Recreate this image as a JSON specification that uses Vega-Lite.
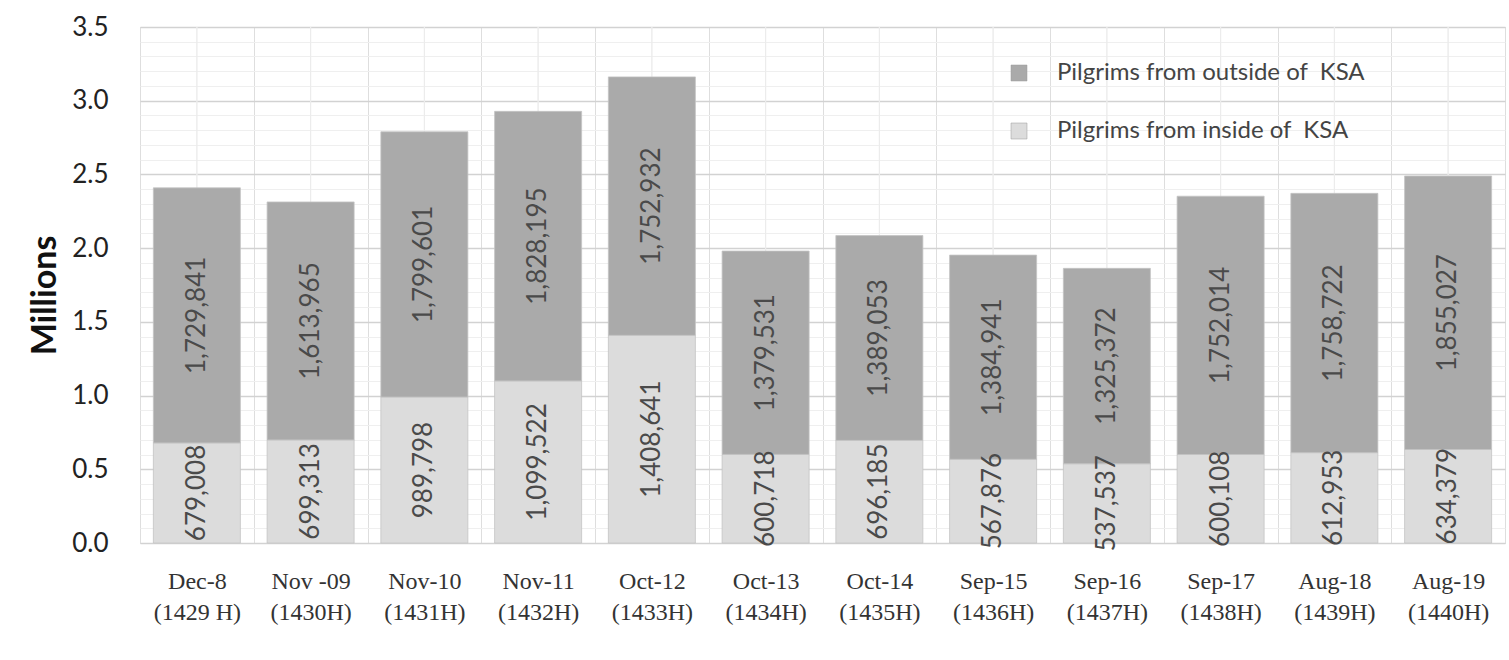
{
  "$schema": "https://vega.github.io/schema/vega-lite/v6.json",
  "width": 1365,
  "height": 516,
  "autosize": {"type": "none"},
  "padding": {"left": 140, "top": 27, "right": 4, "bottom": 117},
  "background": "white",
  "config": {"view": {"stroke": "#d9d9d9"}},
  "data": {"values": [
    {"cat": "Dec-8\n(1429 H)", "series": "Pilgrims from inside of  KSA", "value": 679008},
    {"cat": "Dec-8\n(1429 H)", "series": "Pilgrims from outside of  KSA", "value": 1729841},
    {"cat": "Nov -09\n(1430H)", "series": "Pilgrims from inside of  KSA", "value": 699313},
    {"cat": "Nov -09\n(1430H)", "series": "Pilgrims from outside of  KSA", "value": 1613965},
    {"cat": "Nov-10\n(1431H)", "series": "Pilgrims from inside of  KSA", "value": 989798},
    {"cat": "Nov-10\n(1431H)", "series": "Pilgrims from outside of  KSA", "value": 1799601},
    {"cat": "Nov-11\n(1432H)", "series": "Pilgrims from inside of  KSA", "value": 1099522},
    {"cat": "Nov-11\n(1432H)", "series": "Pilgrims from outside of  KSA", "value": 1828195},
    {"cat": "Oct-12\n(1433H)", "series": "Pilgrims from inside of  KSA", "value": 1408641},
    {"cat": "Oct-12\n(1433H)", "series": "Pilgrims from outside of  KSA", "value": 1752932},
    {"cat": "Oct-13\n(1434H)", "series": "Pilgrims from inside of  KSA", "value": 600718},
    {"cat": "Oct-13\n(1434H)", "series": "Pilgrims from outside of  KSA", "value": 1379531},
    {"cat": "Oct-14\n(1435H)", "series": "Pilgrims from inside of  KSA", "value": 696185},
    {"cat": "Oct-14\n(1435H)", "series": "Pilgrims from outside of  KSA", "value": 1389053},
    {"cat": "Sep-15\n(1436H)", "series": "Pilgrims from inside of  KSA", "value": 567876},
    {"cat": "Sep-15\n(1436H)", "series": "Pilgrims from outside of  KSA", "value": 1384941},
    {"cat": "Sep-16\n(1437H)", "series": "Pilgrims from inside of  KSA", "value": 537537},
    {"cat": "Sep-16\n(1437H)", "series": "Pilgrims from outside of  KSA", "value": 1325372},
    {"cat": "Sep-17\n(1438H)", "series": "Pilgrims from inside of  KSA", "value": 600108},
    {"cat": "Sep-17\n(1438H)", "series": "Pilgrims from outside of  KSA", "value": 1752014},
    {"cat": "Aug-18\n(1439H)", "series": "Pilgrims from inside of  KSA", "value": 612953},
    {"cat": "Aug-18\n(1439H)", "series": "Pilgrims from outside of  KSA", "value": 1758722},
    {"cat": "Aug-19\n(1440H)", "series": "Pilgrims from inside of  KSA", "value": 634379},
    {"cat": "Aug-19\n(1440H)", "series": "Pilgrims from outside of  KSA", "value": 1855027}
  ]},
  "encoding": {
    "x": {
      "field": "cat", "type": "nominal", "sort": null,
      "scale": {"paddingInner": 0, "paddingOuter": 0},
      "axis": {
        "title": null,
        "labelAngle": 0,
        "labelExpr": "datum.value ? split(datum.value, '\\n') : ''",
        "labelFont": "Liberation Serif",
        "labelFontSize": 24,
        "labelLineHeight": 31,
        "labelColor": "#333333",
        "labelBaseline": "top",
        "labelPadding": 26,
        "labelOverlap": false,
        "ticks": false,
        "domain": false,
        "grid": true,
        "tickBand": "extent",
        "gridColor": "#dedede",
        "gridWidth": 1
      }
    }
  },
  "layer": [
    {
      "mark": {"type": "rule", "color": "#ececec", "strokeWidth": 1},
      "encoding": {}
    },
    {
      "mark": {"type": "bar", "width": {"band": 0.765}, "stroke": "#c4c4c4", "strokeWidth": 0.8},
      "encoding": {
        "y": {
          "field": "value", "type": "quantitative", "stack": "zero",
          "scale": {"domain": [0, 3500000], "nice": false},
          "axis": {
            "title": "Millions",
            "titleFont": "Lato",
            "titleFontSize": 34,
            "titleFontWeight": "bold",
            "titleColor": "#111111",
            "titleAngle": -90,
            "titleX": -95,
            "titleY": 268,
            "titleAlign": "center",
            "titleBaseline": "middle",
            "tickCount": 50,
            "values": [0, 100000, 200000, 300000, 400000, 500000, 600000, 700000, 800000, 900000, 1000000, 1100000, 1200000, 1300000, 1400000, 1500000, 1600000, 1700000, 1800000, 1900000, 2000000, 2100000, 2200000, 2300000, 2400000, 2500000, 2600000, 2700000, 2800000, 2900000, 3000000, 3100000, 3200000, 3300000, 3400000, 3500000],
            "labelExpr": "datum.value % 500000 === 0 ? format(datum.value / 1000000, '.1f') : ''",
            "labelOverlap": false,
            "labelFont": "Lato",
            "labelFontSize": 26,
            "labelColor": "#222222",
            "labelPadding": 32,
            "ticks": false,
            "domain": false,
            "grid": true,
            "gridColor": {"condition": {"test": "datum.value % 500000 === 0", "value": "#d2d2d2"}, "value": "#efefef"},
            "gridWidth": {"condition": {"test": "datum.value % 500000 === 0", "value": 1.5}, "value": 1}
          }
        },
        "color": {
          "field": "series", "type": "nominal",
          "scale": {"domain": ["Pilgrims from outside of  KSA", "Pilgrims from inside of  KSA"], "range": ["#aaaaaa", "#dcdcdc"]},
          "legend": {
            "title": null,
            "orient": "none",
            "legendX": 867,
            "legendY": 34,
            "padding": 0,
            "symbolType": "square",
            "symbolSize": 256,
            "symbolStrokeColor": "#9a9a9a",
            "symbolStrokeWidth": 0.5,
            "labelExpr": "replace(datum.label, '  ', ' \u00a0')",
            "labelFont": "Lato",
            "labelFontSize": 24,
            "labelColor": "#444444",
            "labelOffset": 26,
            "rowPadding": 34,
            "labelLimit": 500
          }
        },
        "order": {"field": "series", "sort": "ascending"}
      }
    },
    {
      "mark": {"type": "text", "angle": -90, "align": "center", "baseline": "middle", "font": "Lato", "fontSize": 26, "color": "#4a4a4a"},
      "encoding": {
        "y": {"field": "value", "type": "quantitative", "stack": "zero", "bandPosition": 0.5},
        "detail": {"field": "series", "type": "nominal"},
        "order": {"field": "series", "sort": "ascending"},
        "text": {"field": "value", "type": "quantitative", "format": ","}
      }
    }
  ]
}
